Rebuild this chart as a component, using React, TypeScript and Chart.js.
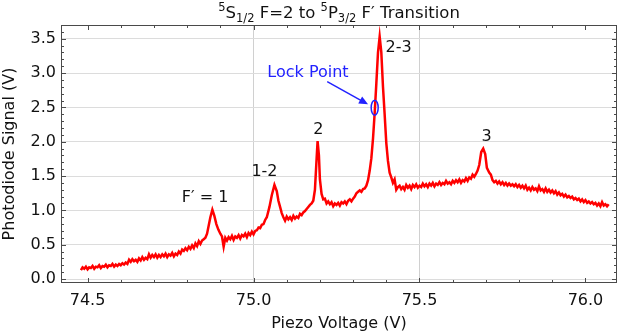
import React, { useEffect, useRef } from 'react';
import { Chart, registerables } from 'chart.js';

Chart.register(...registerables);

// ---------- data (piezo voltage in V, photodiode signal in V), by trace segment ----------
const voltsBaseline = [
  74.48, 74.485, 74.49, 74.495, 74.5, 74.505, 74.51, 74.515, 74.52, 74.525,
  74.53, 74.535, 74.54, 74.545, 74.55, 74.555, 74.56, 74.565, 74.57, 74.575,
  74.58, 74.585, 74.59, 74.595, 74.6, 74.605, 74.61, 74.615, 74.62, 74.625,
  74.63, 74.635, 74.64, 74.645, 74.65, 74.655, 74.66, 74.665, 74.67, 74.675,
  74.68, 74.685, 74.69, 74.695, 74.7, 74.705, 74.71, 74.715, 74.72, 74.725,
  74.73, 74.735, 74.74, 74.745, 74.75, 74.755, 74.76, 74.765, 74.77, 74.775,
  74.78, 74.785, 74.79, 74.795, 74.8, 74.805, 74.81, 74.815, 74.82, 74.825,
  74.83, 74.835, 74.84, 74.845, 74.85,
];
const signalBaseline = [
  0.13, 0.17, 0.15, 0.18, 0.14, 0.17, 0.16, 0.19, 0.15, 0.18,
  0.17, 0.2, 0.16, 0.19, 0.18, 0.21, 0.17, 0.2, 0.19, 0.22,
  0.18, 0.21, 0.19, 0.22, 0.2, 0.23, 0.21, 0.24, 0.22, 0.28,
  0.25, 0.29, 0.26, 0.28, 0.25, 0.3, 0.27, 0.32, 0.28, 0.31,
  0.29, 0.36, 0.31, 0.35, 0.32, 0.36, 0.31, 0.35, 0.32, 0.36,
  0.33, 0.37, 0.32, 0.36, 0.34, 0.38, 0.33, 0.37, 0.35, 0.4,
  0.37, 0.43, 0.41, 0.45, 0.42, 0.47, 0.44, 0.49, 0.45, 0.52,
  0.48, 0.55, 0.51, 0.56, 0.58,
];

const voltsPeak1 = [74.855, 74.86, 74.865, 74.87, 74.876, 74.882, 74.888, 74.894, 74.9, 74.905, 74.91];
const signalPeak1 = [0.6, 0.66, 0.78, 0.9, 1.01, 0.92, 0.8, 0.72, 0.66, 0.62, 0.47];

const voltsRise12 = [
  74.915, 74.92, 74.925, 74.93, 74.935, 74.94, 74.945, 74.95, 74.955, 74.96,
  74.965, 74.97, 74.975, 74.98, 74.985, 74.99, 74.995, 75.0, 75.005, 75.01,
  75.015, 75.02, 75.025, 75.03, 75.035, 75.04,
];
const signalRise12 = [
  0.6, 0.56, 0.61, 0.58, 0.63, 0.57, 0.62, 0.6, 0.64, 0.59,
  0.64, 0.62, 0.66, 0.61, 0.67, 0.64, 0.69, 0.65, 0.7, 0.71,
  0.75, 0.74, 0.79, 0.8, 0.86, 0.9,
];

const voltsPeak12 = [75.048, 75.055, 75.063, 75.07, 75.075, 75.08, 75.085];
const signalPeak12 = [1.05, 1.22, 1.37, 1.28, 1.14, 1.05, 0.96];

const voltsValley2 = [
  75.09, 75.095, 75.1, 75.105, 75.11, 75.115, 75.12, 75.125, 75.13, 75.135,
  75.14, 75.145, 75.15, 75.155, 75.16, 75.165, 75.17, 75.175, 75.18,
];
const signalValley2 = [
  0.9, 0.85, 0.91, 0.87, 0.9, 0.86, 0.92, 0.88, 0.91, 0.89,
  0.95, 0.93, 0.97, 0.99, 1.02, 1.05, 1.08, 1.1, 1.14,
];

const voltsPeak2 = [75.185, 75.19, 75.193, 75.197, 75.2];
const signalPeak2 = [1.3, 1.75, 2.01, 1.8, 1.45];

const voltsValley23 = [
  75.205, 75.21, 75.215, 75.22, 75.225, 75.23, 75.235, 75.24, 75.245, 75.25,
  75.255, 75.26, 75.265, 75.27, 75.275, 75.28, 75.285, 75.29, 75.295, 75.3,
  75.305, 75.31, 75.315, 75.32, 75.325, 75.33, 75.335, 75.34,
];
const signalValley23 = [
  1.24, 1.16, 1.17, 1.1, 1.13, 1.09, 1.12, 1.06, 1.1, 1.08,
  1.11, 1.07, 1.12, 1.1, 1.13, 1.09, 1.14, 1.16, 1.13, 1.17,
  1.2, 1.25, 1.27, 1.29, 1.27, 1.31, 1.32, 1.36,
];

const voltsPeak23 = [
  75.345, 75.35, 75.355, 75.36, 75.365, 75.37, 75.375, 75.38, 75.385, 75.39,
  75.395, 75.4, 75.405, 75.41, 75.415, 75.42, 75.425, 75.43, 75.435,
];
const signalPeak23 = [
  1.44, 1.58, 1.76, 2.05, 2.42, 2.85, 3.3, 3.53, 3.3, 2.8,
  2.4, 1.98, 1.72, 1.55, 1.48, 1.4, 1.45, 1.3, 1.34,
];

const voltsPlateau = [
  75.44, 75.445, 75.45, 75.455, 75.46, 75.465, 75.47, 75.475, 75.48, 75.485,
  75.49, 75.495, 75.5, 75.505, 75.51, 75.515, 75.52, 75.525, 75.53, 75.535,
  75.54, 75.545, 75.55, 75.555, 75.56, 75.565, 75.57, 75.575, 75.58, 75.585,
  75.59, 75.595, 75.6, 75.605, 75.61, 75.615, 75.62, 75.625, 75.63, 75.635,
  75.64, 75.645, 75.65, 75.655, 75.66, 75.665, 75.67,
];
const signalPlateau = [
  1.36, 1.31, 1.34, 1.3, 1.37, 1.33, 1.36, 1.31, 1.37, 1.34,
  1.38, 1.33, 1.36, 1.34, 1.39, 1.35, 1.38, 1.34, 1.39, 1.36,
  1.4, 1.35, 1.39, 1.37, 1.41, 1.37, 1.4, 1.38, 1.43, 1.39,
  1.41, 1.38, 1.43, 1.4, 1.44, 1.41, 1.45, 1.4, 1.44, 1.42,
  1.47, 1.43, 1.48, 1.46, 1.52, 1.49, 1.53,
];

const voltsPeak3 = [75.675, 75.68, 75.686, 75.692, 75.698, 75.703, 75.71, 75.715];
const signalPeak3 = [1.58, 1.66, 1.85, 1.9, 1.82, 1.62, 1.55, 1.52];

const voltsTail = [
  75.72, 75.725, 75.73, 75.735, 75.74, 75.745, 75.75, 75.755, 75.76, 75.765,
  75.77, 75.775, 75.78, 75.785, 75.79, 75.795, 75.8, 75.805, 75.81, 75.815,
  75.82, 75.825, 75.83, 75.835, 75.84, 75.845, 75.85, 75.855, 75.86, 75.865,
  75.87, 75.875, 75.88, 75.885, 75.89, 75.895, 75.9, 75.905, 75.91, 75.915,
  75.92, 75.925, 75.93, 75.935, 75.94, 75.945, 75.95, 75.955, 75.96, 75.965,
  75.97, 75.975, 75.98, 75.985, 75.99, 75.995, 76.0, 76.005, 76.01, 76.015,
  76.02, 76.025, 76.03, 76.035, 76.04, 76.045, 76.05, 76.055, 76.06, 76.065,
  76.07,
];
const signalTail = [
  1.44, 1.41, 1.43, 1.39, 1.42, 1.38, 1.41, 1.37, 1.4, 1.36,
  1.39, 1.36, 1.38, 1.35, 1.38, 1.34, 1.37, 1.33, 1.36, 1.32,
  1.36, 1.3, 1.33, 1.29, 1.34, 1.3, 1.32, 1.28, 1.35, 1.29,
  1.31, 1.27, 1.32, 1.27, 1.3, 1.26, 1.29, 1.25, 1.28, 1.23,
  1.26, 1.22, 1.24, 1.2, 1.23, 1.19, 1.21, 1.18, 1.2, 1.16,
  1.18, 1.15, 1.17, 1.13, 1.16, 1.12, 1.15, 1.11, 1.13, 1.1,
  1.12, 1.09, 1.11, 1.07, 1.1, 1.06, 1.12, 1.07, 1.09, 1.06,
  1.09,
];

const piezoVoltage = [
  ...voltsBaseline, ...voltsPeak1, ...voltsRise12, ...voltsPeak12, ...voltsValley2, ...voltsPeak2,
  ...voltsValley23, ...voltsPeak23, ...voltsPlateau, ...voltsPeak3, ...voltsTail,
];
const photodiodeSignal = [
  ...signalBaseline, ...signalPeak1, ...signalRise12, ...signalPeak12, ...signalValley2, ...signalPeak2,
  ...signalValley23, ...signalPeak23, ...signalPlateau, ...signalPeak3, ...signalTail,
];

// axis ranges and ticks
const xMin = 74.42;
const xMax = 76.095;
const yMin = -0.058;
const yMax = 3.7;
const majorStep = 0.5;
const minorStep = 0.1;
const xGridValues = [75.0, 75.5];

// peak annotations
const peakLabels = ['F\u2032 = 1', '1-2', '2', '2-3', '3'];
const peakLabelX = [74.854, 75.033, 75.195, 75.437, 75.702];
const peakLabelY = [1.18, 1.554, 2.18, 3.36, 2.07];

// lock point annotation
const lockText = 'Lock Point';
const lockTextX = 75.164;
const lockTextY = 3.01;
const lockArrowFrom = [75.222, 2.876];
const lockArrowTo = [75.345, 2.544];
const lockMarker = [75.365, 2.496];

// title pieces: [text, kind]
const titleParts: [string, string][] = [
  ['5', 'sup'], ['S', 'main'], ['1/2', 'sub'], [' F=2 to ', 'main'],
  ['5', 'sup'], ['P', 'main'], ['3/2', 'sub'], [' F\u2032 Transition', 'main'],
];

const FONT = '"DejaVu Sans", sans-serif';

const overlayPlugin = {
  id: 'overlay',
  afterDraw(chart: any) {
    const { ctx, chartArea } = chart;
    const xs = chart.scales.x;
    const ys = chart.scales.y;
    const { left, right, top, bottom } = chartArea;
    ctx.save();

    // frame
    ctx.strokeStyle = '#4a4a4a';
    ctx.lineWidth = 1;
    ctx.strokeRect(Math.round(left) + 0.5, Math.round(top) + 0.5, Math.round(right - left) - 1, Math.round(bottom - top) - 1);

    // ticks (inward, all four sides)
    ctx.beginPath();
    const nX = Math.round((xMax - xMin) / minorStep) + 2;
    const startX = Math.ceil(xMin / minorStep - 1e-6) * minorStep;
    for (let i = 0; i < nX; i++) {
      const v = +(startX + i * minorStep).toFixed(3);
      if (v < xMin || v > xMax) continue;
      const major = Math.abs(v / majorStep - Math.round(v / majorStep)) < 1e-6;
      const len = major ? 5 : 3;
      const px = Math.round(xs.getPixelForValue(v)) + 0.5;
      ctx.moveTo(px, bottom);
      ctx.lineTo(px, bottom - len);
      ctx.moveTo(px, top);
      ctx.lineTo(px, top + len);
    }
    const nY = Math.round((yMax - yMin) / minorStep) + 2;
    const startY = Math.ceil(yMin / minorStep - 1e-6) * minorStep;
    for (let i = 0; i < nY; i++) {
      const v = +(startY + i * minorStep).toFixed(3);
      if (v < yMin || v > yMax) continue;
      const major = Math.abs(v / majorStep - Math.round(v / majorStep)) < 1e-6;
      const len = major ? 5 : 3;
      const py = Math.round(ys.getPixelForValue(v)) + 0.5;
      ctx.moveTo(left, py);
      ctx.lineTo(left + len, py);
      ctx.moveTo(right, py);
      ctx.lineTo(right - len, py);
    }
    ctx.strokeStyle = '#4a4a4a';
    ctx.lineWidth = 1;
    ctx.stroke();

    // peak labels
    ctx.fillStyle = '#111';
    ctx.font = `16px ${FONT}`;
    ctx.textAlign = 'center';
    ctx.textBaseline = 'middle';
    peakLabels.forEach((t, i) => {
      ctx.fillText(t, xs.getPixelForValue(peakLabelX[i]), ys.getPixelForValue(peakLabelY[i]));
    });

    // lock point
    const blue = '#2222ff';
    ctx.fillStyle = blue;
    ctx.fillText(lockText, xs.getPixelForValue(lockTextX), ys.getPixelForValue(lockTextY));
    const ax0 = xs.getPixelForValue(lockArrowFrom[0]);
    const ay0 = ys.getPixelForValue(lockArrowFrom[1]);
    const ax1 = xs.getPixelForValue(lockArrowTo[0]);
    const ay1 = ys.getPixelForValue(lockArrowTo[1]);
    const ang = Math.atan2(ay1 - ay0, ax1 - ax0);
    const hl = 9;
    const hw = 4;
    ctx.strokeStyle = blue;
    ctx.lineWidth = 1.5;
    ctx.beginPath();
    ctx.moveTo(ax0, ay0);
    ctx.lineTo(ax1 - Math.cos(ang) * hl * 0.8, ay1 - Math.sin(ang) * hl * 0.8);
    ctx.stroke();
    ctx.beginPath();
    ctx.moveTo(ax1, ay1);
    ctx.lineTo(ax1 - Math.cos(ang) * hl - Math.sin(ang) * hw, ay1 - Math.sin(ang) * hl + Math.cos(ang) * hw);
    ctx.lineTo(ax1 - Math.cos(ang) * hl + Math.sin(ang) * hw, ay1 - Math.sin(ang) * hl - Math.cos(ang) * hw);
    ctx.closePath();
    ctx.fill();
    ctx.beginPath();
    ctx.ellipse(xs.getPixelForValue(lockMarker[0]), ys.getPixelForValue(lockMarker[1]), 3.5, 7.5, 0, 0, Math.PI * 2);
    ctx.lineWidth = 1.5;
    ctx.stroke();

    // title with super/subscripts
    const mainFont = `16.5px ${FONT}`;
    const smallFont = `11.5px ${FONT}`;
    ctx.textAlign = 'left';
    ctx.textBaseline = 'alphabetic';
    let total = 0;
    titleParts.forEach(([t, k]) => {
      ctx.font = k === 'main' ? mainFont : smallFont;
      total += ctx.measureText(t).width;
    });
    let x = (left + right) / 2 - total / 2;
    const base = 18;
    ctx.fillStyle = '#111';
    titleParts.forEach(([t, k]) => {
      ctx.font = k === 'main' ? mainFont : smallFont;
      const dy = k === 'sup' ? -7 : k === 'sub' ? 4 : 0;
      ctx.fillText(t, x, base + dy);
      x += ctx.measureText(t).width;
    });

    ctx.restore();
  },
};

export default function App() {
  const canvasRef = useRef<HTMLCanvasElement>(null);

  useEffect(() => {
    if (!canvasRef.current) return;
    const points = piezoVoltage.map((v, i) => ({ x: v, y: photodiodeSignal[i] }));
    const chart = new Chart(canvasRef.current, {
      type: 'line',
      data: {
        datasets: [
          {
            data: points,
            borderColor: '#ff0000',
            borderWidth: 2.5,
            pointRadius: 0,
            tension: 0,
            fill: false,
          },
        ],
      },
      options: {
        animation: false,
        responsive: false,
        maintainAspectRatio: false,
        parsing: false as any,
        layout: { padding: { top: 25, right: 4, left: 0, bottom: 0 } },
        plugins: {
          legend: { display: false },
          tooltip: { enabled: false },
          title: { display: false },
        },
        scales: {
          x: {
            type: 'linear',
            min: xMin,
            max: xMax,
            border: { display: false },
            grid: {
              drawTicks: false,
              color: (c: any) =>
                c.tick && xGridValues.some((g) => Math.abs(g - c.tick.value) < 1e-6) ? '#d0d0d0' : 'rgba(0,0,0,0)',
            },
            ticks: {
              stepSize: majorStep,
              includeBounds: false,
              padding: 8,
              color: '#111',
              font: { family: FONT, size: 16 },
              callback: (v: any) => Number(v).toFixed(1),
              maxRotation: 0,
            },
            title: {
              display: true,
              text: 'Piezo Voltage (V)',
              color: '#111',
              font: { family: FONT, size: 16 },
              padding: { top: 0, bottom: 2 },
            },
            afterFit: (s: any) => {
              s.height = 52;
            },
          },
          y: {
            type: 'linear',
            min: yMin,
            max: yMax,
            border: { display: false },
            grid: { drawTicks: false, color: '#dcdcdc' },
            ticks: {
              stepSize: majorStep,
              includeBounds: false,
              padding: 5,
              color: '#111',
              font: { family: FONT, size: 16 },
              callback: (v: any) => Number(v).toFixed(1),
            },
            title: {
              display: true,
              text: 'Photodiode Signal (V)',
              color: '#111',
              font: { family: FONT, size: 16 },
              padding: { top: 0, bottom: 0 },
            },
            afterFit: (s: any) => {
              s.width = 61;
            },
          },
        },
      },
      plugins: [overlayPlugin],
    });
    return () => chart.destroy();
  }, []);

  return (
    <div style={{ position: 'absolute', left: 0, top: 0, width: 621, height: 335 }}>
      <canvas ref={canvasRef} width={621} height={335} style={{ display: 'block' }} />
    </div>
  );
}
